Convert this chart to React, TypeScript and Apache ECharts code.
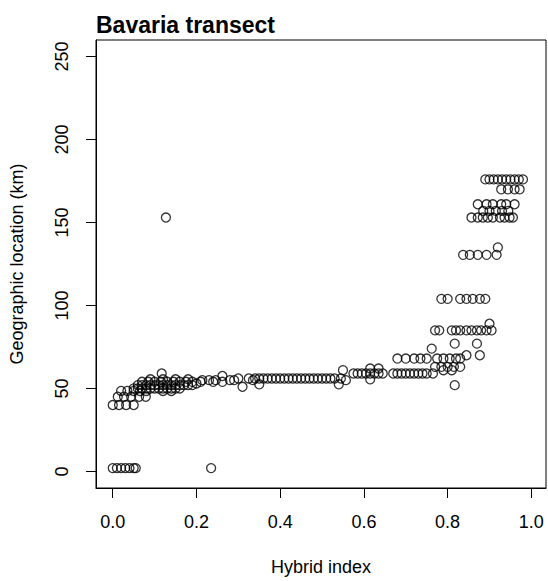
import React, { useEffect, useRef } from "react";
import * as echarts from "echarts";

type Pt = [number, number];

const chartTitle = "Bavaria transect";
const xAxisTitle = "Hybrid index";
const yAxisTitle = "Geographic location (km)";
const xTicks = [0, 0.2, 0.4, 0.6, 0.8, 1.0];
const yTicks = [0, 50, 100, 150, 200, 250];

// hybrid index, location (km)
const westEndPoints: Pt[] = [
  [0.0, 2], [0.01, 2], [0.02, 2], [0.03, 2], [0.04, 2], [0.05, 2], [0.055, 2], [0.235, 2],
  [0.0, 40], [0.015, 40], [0.032, 40], [0.05, 40],
  [0.012, 45], [0.027, 45], [0.044, 45], [0.063, 45], [0.079, 45],
  [0.02, 48.5], [0.035, 48.5], [0.05, 48.5], [0.065, 48.5], [0.08, 48.5], [0.12, 48.5], [0.14, 48.5],
];

const westClusterPoints: Pt[] = [
  [0.05, 50], [0.06, 50], [0.07, 50], [0.08, 50], [0.09, 50], [0.1, 50], [0.11, 50], [0.12, 50],
  [0.13, 50], [0.14, 50], [0.15, 50], [0.16, 50],
  [0.06, 52], [0.07, 52], [0.08, 52], [0.09, 52], [0.1, 52], [0.11, 52], [0.12, 52], [0.13, 52],
  [0.14, 52], [0.15, 52], [0.16, 52], [0.17, 52], [0.18, 52], [0.19, 52],
  [0.07, 54], [0.085, 54], [0.1, 54], [0.115, 54], [0.13, 54], [0.145, 54], [0.16, 54], [0.175, 54], [0.19, 54],
  [0.09, 55.5], [0.12, 55.5], [0.15, 55.5], [0.18, 55.5],
  [0.117, 59], [0.127, 153],
];

const centralPoints: Pt[] = [
  [0.2, 53], [0.21, 54], [0.214, 55], [0.23, 55], [0.24, 54], [0.246, 55], [0.262, 57.5], [0.262, 54],
  [0.28, 55], [0.29, 55], [0.3, 56], [0.31, 51], [0.325, 56], [0.335, 55], [0.35, 52.5],
  [0.34, 56], [0.35, 56], [0.36, 56], [0.37, 56], [0.38, 56], [0.39, 56], [0.4, 56], [0.41, 56],
  [0.42, 56], [0.43, 56], [0.44, 56], [0.45, 56], [0.46, 56], [0.47, 56], [0.48, 56], [0.49, 56],
  [0.5, 56], [0.51, 56], [0.52, 56], [0.53, 56],
  [0.54, 52.5], [0.545, 56], [0.55, 61], [0.557, 55],
];

const transitionPoints: Pt[] = [
  [0.575, 59], [0.585, 59], [0.595, 59], [0.605, 59], [0.615, 59], [0.625, 59], [0.635, 59], [0.645, 59],
  [0.615, 62], [0.615, 55.5], [0.635, 62],
  [0.67, 59], [0.68, 59], [0.69, 59], [0.7, 59], [0.71, 59], [0.72, 59], [0.73, 59], [0.74, 59],
  [0.75, 59], [0.765, 59],
  [0.68, 68], [0.7, 68], [0.72, 68], [0.735, 68], [0.75, 68], [0.775, 68], [0.79, 68], [0.805, 68],
  [0.82, 68], [0.83, 68],
  [0.762, 74], [0.77, 63], [0.785, 63], [0.8, 63], [0.815, 63], [0.83, 63],
  [0.79, 61], [0.81, 61], [0.817, 52], [0.845, 70], [0.877, 70], [0.817, 77], [0.87, 77],
];

const eastRisePoints: Pt[] = [
  [0.77, 85], [0.78, 85], [0.81, 85], [0.82, 85], [0.83, 85], [0.845, 85], [0.857, 85], [0.87, 85],
  [0.88, 85], [0.893, 85], [0.905, 85], [0.9, 89],
  [0.785, 104], [0.8, 104], [0.83, 104], [0.845, 104], [0.86, 104], [0.877, 104], [0.89, 104],
  [0.837, 130.5], [0.853, 130.5], [0.872, 130.5], [0.893, 130.5], [0.917, 130.5], [0.92, 135],
];

const eastEndPoints: Pt[] = [
  [0.857, 153], [0.872, 153], [0.884, 153], [0.896, 153], [0.908, 153], [0.925, 153], [0.936, 153],
  [0.948, 153], [0.956, 153],
  [0.885, 157], [0.9, 157], [0.915, 157], [0.93, 157], [0.945, 157],
  [0.872, 161], [0.893, 161], [0.908, 161], [0.928, 161], [0.94, 161], [0.96, 161],
  [0.928, 170], [0.944, 170], [0.96, 170], [0.972, 170],
  [0.89, 176], [0.9, 176], [0.91, 176], [0.92, 176], [0.93, 176], [0.94, 176], [0.95, 176],
  [0.96, 176], [0.97, 176], [0.98, 176],
];

const allPoints: Pt[] = [
  ...westEndPoints,
  ...westClusterPoints,
  ...centralPoints,
  ...transitionPoints,
  ...eastRisePoints,
  ...eastEndPoints,
];

const FONT = "Liberation Sans";

export default function App() {
  const ref = useRef<HTMLDivElement>(null);
  useEffect(() => {
    if (!ref.current) return;
    const chart = echarts.init(ref.current, undefined, { renderer: "svg" });
    chart.setOption({
      animation: false,
      backgroundColor: "#ffffff",
      title: {
        text: chartTitle,
        left: 96,
        top: 13,
        padding: 0,
        textStyle: { fontFamily: FONT, fontSize: 23, fontWeight: "bold", color: "#000" },
      },
      grid: {
        left: 95,
        top: 40,
        right: 2,
        bottom: 87,
        show: true,
        borderColor: "#000",
        borderWidth: 1,
        backgroundColor: "transparent",
      },
      xAxis: {
        type: "value",
        min: -0.04,
        max: 1.035,
        splitLine: { show: false },
        axisLine: { show: true, onZero: false, lineStyle: { color: "#000", width: 1 } },
        axisTick: { show: true, length: 10, customValues: xTicks, lineStyle: { color: "#000" } },
        axisLabel: {
          customValues: xTicks,
          formatter: (v: number) => v.toFixed(1),
          margin: 25,
          fontFamily: FONT,
          fontSize: 18,
          color: "#000",
        },
        name: xAxisTitle,
        nameLocation: "middle",
        nameGap: 70,
        nameTextStyle: { fontFamily: FONT, fontSize: 18, color: "#000" },
      },
      yAxis: {
        type: "value",
        min: -10,
        max: 260,
        splitLine: { show: false },
        axisLine: { show: true, onZero: false, lineStyle: { color: "#000", width: 1 } },
        axisTick: { show: true, length: 10, customValues: yTicks, lineStyle: { color: "#000" } },
        axisLabel: {
          customValues: yTicks,
          rotate: 90,
          margin: 25,
          fontFamily: FONT,
          fontSize: 18,
          color: "#000",
        },
        name: yAxisTitle,
        nameLocation: "middle",
        nameGap: 70,
        nameTextStyle: { fontFamily: FONT, fontSize: 18, color: "#000" },
      },
      series: [
        {
          type: "scatter",
          data: allPoints,
          symbol: "circle",
          symbolSize: 9,
          itemStyle: { color: "rgba(0,0,0,0)", borderColor: "#000", borderWidth: 1.3 },
        },
      ],
    });
    return () => chart.dispose();
  }, []);
  return (
    <div
      ref={ref}
      style={{ position: "fixed", left: 0, top: 0, width: 548, height: 581, background: "#fff" }}
    />
  );
}
